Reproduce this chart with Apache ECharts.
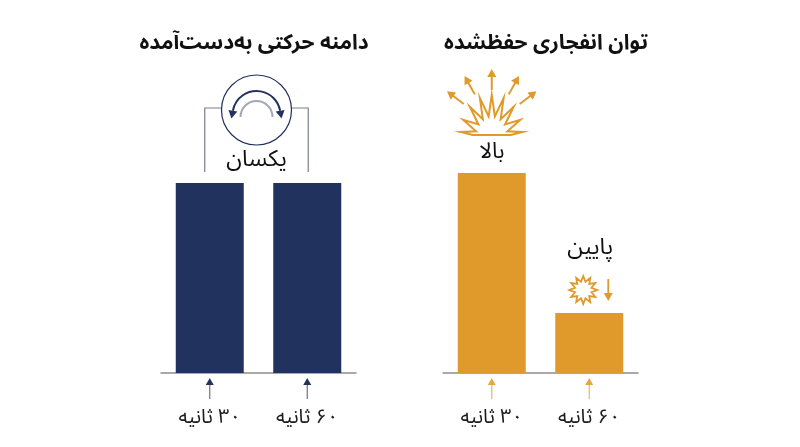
<!DOCTYPE html>
<html>
<head>
<meta charset="utf-8">
<script src="https://cdn.jsdelivr.net/npm/echarts@6/dist/echarts.min.js"></script>
<style>
  html, body { margin: 0; background: #fff; }
  #main { width: 800px; height: 447px; direction: rtl; }
</style>
</head>
<body>
<div id="main"></div>
<script>
// data
const categories = ['۳۰ ثانیه', '۶۰ ثانیه'];
const rangeValues = [95, 95];
const powerValues = [100, 30];
const panelTitles = ['دامنه حرکتی به‌دست‌آمده', 'توان انفجاری حفظشده'];
const rangeNote = 'یکسان';
const powerNotes = ['بالا', 'پایین'];

const navy = '#22325f';
const orange = '#e09a2b';
const font = "'Noto Sans Arabic', 'DejaVu Sans', sans-serif";

const chart = echarts.init(document.getElementById('main'));

const axisX = (idx) => ({
  type: 'category',
  gridIndex: idx,
  data: categories,
  axisTick: { show: false },
  axisLine: { lineStyle: { color: '#8d8d8d', width: 1.5 } },
  axisLabel: { color: '#1b1b1b', fontSize: 20, margin: 37, fontFamily: font }
});

chart.setOption({
  animation: false,
  title: [
    { text: panelTitles[0], left: 249, top: 30, textAlign: 'center',
      textStyle: { fontSize: 21, fontWeight: 'bold', color: '#111', fontFamily: font } },
    { text: panelTitles[1], left: 541, top: 30, textAlign: 'center',
      textStyle: { fontSize: 21, fontWeight: 'bold', color: '#111', fontFamily: font } }
  ],
  grid: [
    { left: 161, width: 195, top: 173, bottom: 74 },
    { left: 443, width: 195, top: 173, bottom: 74 }
  ],
  xAxis: [axisX(0), axisX(1)],
  yAxis: [
    { type: 'value', gridIndex: 0, min: 0, max: 100, show: false },
    { type: 'value', gridIndex: 1, min: 0, max: 100, show: false }
  ],
  series: [
    { type: 'bar', xAxisIndex: 0, yAxisIndex: 0, data: rangeValues, barWidth: 68,
      itemStyle: { color: navy } },
    { type: 'bar', xAxisIndex: 1, yAxisIndex: 1, data: powerValues, barWidth: 68,
      itemStyle: { color: orange } }
  ]
});

// helpers for the drawn annotations
function arrow(x1, y1, x2, y2, color, lw, hl, hw, headColor) {
  const len = Math.hypot(x2 - x1, y2 - y1);
  const dx = (x2 - x1) / len, dy = (y2 - y1) / len;
  const bx = x2 - dx * hl, by = y2 - dy * hl;
  return [
    { type: 'line', silent: true,
      shape: { x1: x1, y1: y1, x2: bx + dx * 1, y2: by + dy * 1 },
      style: { stroke: color, lineWidth: lw } },
    { type: 'polygon', silent: true,
      shape: { points: [[x2, y2], [bx - dy * hw, by + dx * hw], [bx + dy * hw, by - dx * hw]] },
      style: { fill: headColor || color } }
  ];
}

function text(str, x, y, size, color) {
  return { type: 'text', silent: true, x: x, y: y,
    style: { text: str, fontSize: size, fontFamily: font, fill: color || '#111',
      align: 'center', verticalAlign: 'middle' } };
}

const px = (gi, i, v) => chart.convertToPixel({ gridIndex: gi }, [categories[i], v]);

const g = [];

// left panel: bracket with the range icon
const a = px(0, 0, rangeValues[0]);
const b = px(0, 1, rangeValues[1]);
const barTop = Math.min(a[1], b[1]);
const xL = a[0] - 5, xR = b[0] + 1;
const yH = barTop - 75;
const cx = (xL + xR) / 2, cy = barTop - 73, r = 35;
g.push({ type: 'polyline', silent: true,
  shape: { points: [[xL, barTop - 11], [xL, yH], [cx - r + 2, yH]] },
  style: { stroke: '#7a7f8e', lineWidth: 1.2, fill: null } });
g.push({ type: 'polyline', silent: true,
  shape: { points: [[xR, barTop - 11], [xR, yH], [cx + r - 2, yH]] },
  style: { stroke: '#7a7f8e', lineWidth: 1.2, fill: null } });
g.push({ type: 'circle', silent: true, shape: { cx: cx, cy: cy, r: r },
  style: { fill: '#fff', stroke: navy, lineWidth: 1.2 } });
g.push({ type: 'arc', silent: true,
  shape: { cx: cx, cy: cy + 7, r: 16, startAngle: Math.PI, endAngle: Math.PI * 2, clockwise: true },
  style: { stroke: '#a3a8b8', lineWidth: 2, fill: null } });
const ar = 24, acy = cy + 5, d = 0.18;
g.push({ type: 'arc', silent: true,
  shape: { cx: cx, cy: acy, r: ar, startAngle: Math.PI + d, endAngle: Math.PI * 2 - d, clockwise: true },
  style: { stroke: navy, lineWidth: 2, fill: null } });
[[Math.PI + d, -1], [Math.PI * 2 - d, 1]].forEach(([th, sg]) => {
  const ex = cx + ar * Math.cos(th), ey = acy + ar * Math.sin(th);
  const dx = sg > 0 ? -Math.sin(th) : Math.sin(th);
  const dy = sg > 0 ? Math.cos(th) : -Math.cos(th);
  g.push({ type: 'polygon', silent: true,
    shape: { points: [[ex + dx * 8, ey + dy * 8], [ex - dy * 4.5, ey + dx * 4.5], [ex + dy * 4.5, ey - dx * 4.5]] },
    style: { fill: navy } });
});
g.push(text(rangeNote, cx, barTop - 20, 23));

// right panel: explosion above the tall bar
const t = px(1, 0, powerValues[0]);
const s = px(1, 1, powerValues[1]);
const ex0 = t[0], ey0 = t[1] - 38;
const burst = [[ex0 - 19, ey0]];
for (let i = 0; i <= 16; i++) {
  const th = Math.PI + i * Math.PI / 16;
  const outer = i % 2 === 0;
  const rx = outer ? 31 : 16, ry = outer ? 40 : 19;
  let y = ry * Math.sin(th);
  if (outer && (i === 0 || i === 16)) y = -3;
  burst.push([ex0 + rx * Math.cos(th), ey0 + y]);
}
burst.push([ex0 + 19, ey0]);
g.push({ type: 'polygon', silent: true, shape: { points: burst },
  style: { fill: '#fff', stroke: orange, lineWidth: 2, lineJoin: 'miter' } });
const rcx = ex0, rcy = ey0 - 10;
[-53, -29, 0, 29, 53].forEach((deg) => {
  const rad = deg * Math.PI / 180;
  const dx = Math.sin(rad), dy = -Math.cos(rad);
  g.push(...arrow(rcx + dx * 35, rcy + dy * 35, rcx + dx * 56, rcy + dy * 56, orange, 2, 8, 4.5));
});
g.push(text(powerNotes[0], t[0], t[1] - 18, 22));

// small burst and down arrow above the short bar
const scx = s[0] - 6, scy = s[1] - 23;
const small = [];
for (let i = 0; i < 24; i++) {
  const th = -Math.PI / 2 + i * Math.PI / 12;
  const rr = i % 2 === 0 ? 14 : 8.5;
  small.push([scx + rr * Math.cos(th), scy + rr * Math.sin(th)]);
}
g.push({ type: 'polygon', silent: true, shape: { points: small },
  style: { fill: '#fff', stroke: orange, lineWidth: 1.8 } });
g.push(...arrow(s[0] + 19, s[1] - 34, s[0] + 19, s[1] - 12, orange, 1.8, 8, 4.5));
g.push(text(powerNotes[1], s[0] + 1, s[1] - 62, 23));

// little arrows under each bar
const axisY = px(0, 0, 0)[1];
[a, b].forEach((p) => g.push(...arrow(p[0], axisY + 26, p[0], axisY + 5, '#6b7290', 1.2, 7, 4, navy)));
[t, s].forEach((p) => g.push(...arrow(p[0], axisY + 26, p[0], axisY + 5, '#eab565', 1.2, 7, 4, '#e5a745')));

chart.setOption({ graphic: g });
</script>
</body>
</html>
